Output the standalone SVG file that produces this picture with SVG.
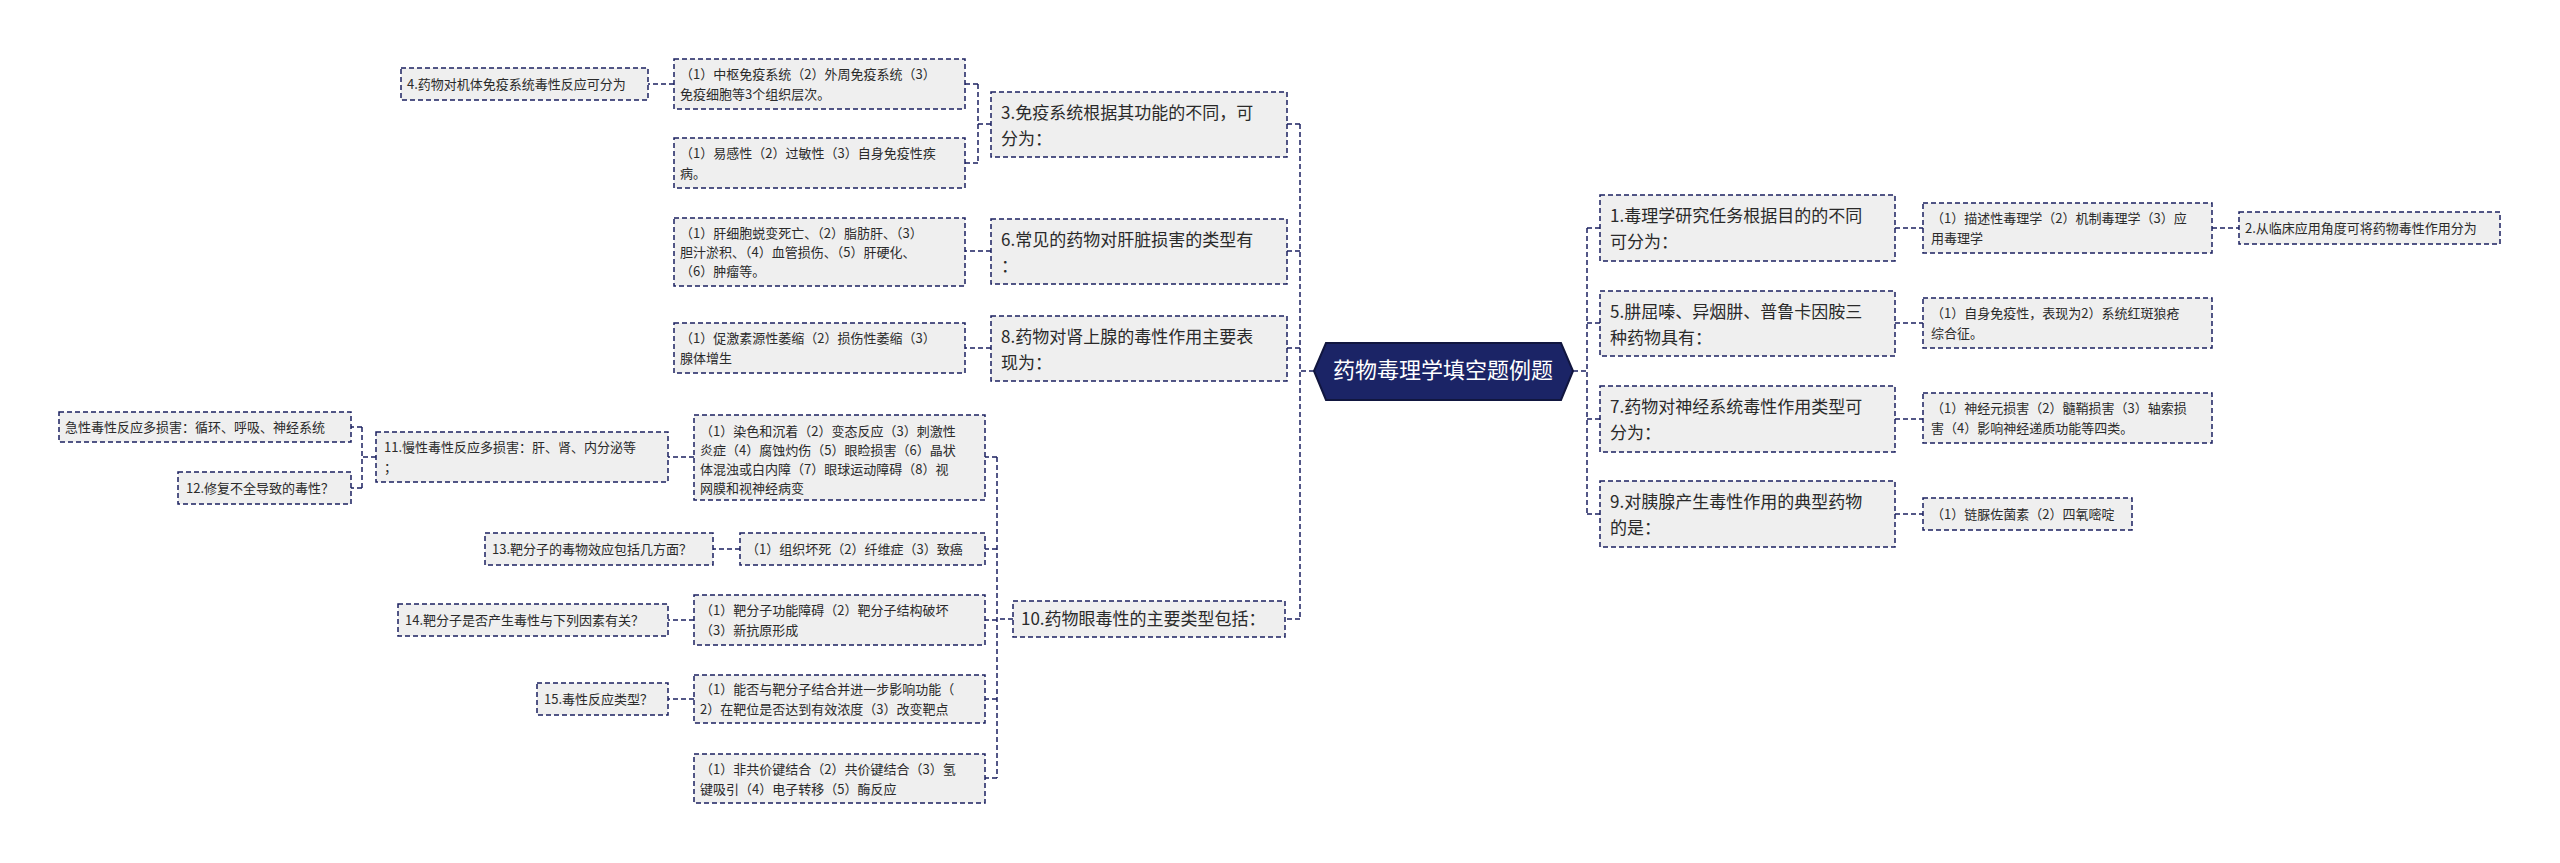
<svg xmlns="http://www.w3.org/2000/svg" width="2560" height="863" viewBox="0 0 2560 863">
<style>
.b{fill:#efefef;stroke:#1b2060;stroke-width:1.5;stroke-dasharray:5,3}
.t1{font-family:"Noto Sans CJK SC","Liberation Sans",sans-serif;font-size:17px;fill:#2a2a2a}
.t2{font-family:"Noto Sans CJK SC","Liberation Sans",sans-serif;font-size:13px;fill:#2a2a2a}
.c{fill:none;stroke:#1b2060;stroke-width:1.5;stroke-dasharray:5,3}
</style>
<rect width="2560" height="863" fill="#fff"/>
<g id="connectors">
<path class="c" d="M1573,371H1587M1587,228V514M1587,228H1600M1587,323H1600M1587,419H1600M1587,514H1600"/>
<path class="c" d="M1895,228H1923M2212,228H2239M1895,323H1923M1895,419H1923M1895,514H1923"/>
<path class="c" d="M1314,371H1300M1300,124V619M1300,124H1287M1300,251H1287M1300,348H1287M1300,619H1285"/>
<path class="c" d="M991,124H978M978,84V163M978,84H965M978,163H965M674,84H648M991,251H965M991,348H965"/>
<path class="c" d="M1013,619H997M997,457V778M997,457H985M997,549H985M997,620H985M997,699H985M997,778H985"/>
<path class="c" d="M694,457H668M376,457H362M362,427V488M362,427H351M362,488H351M740,549H713M694,620H668M694,699H668"/>
</g>
<g id="root">
<polygon points="1326,343 1561,343 1573,371 1561,400 1326,400 1314,371" fill="#1b2466" stroke="#11163f" stroke-width="2"/>
<text x="1443" y="378" text-anchor="middle" font-family="Noto Sans CJK SC,sans-serif" font-size="22" fill="#fff">药物毒理学填空题例题</text>
</g>
<g id="n1"><rect class="b" x="1600" y="195" width="295" height="66"/><text class="t1" x="1610" y="222">1.毒理学研究任务根据目的的不同</text><text class="t1" x="1610" y="248">可分为：</text></g>
<g id="n1a"><rect class="b" x="1923" y="203" width="289" height="50"/><text class="t2" x="1931" y="223">（1）描述性毒理学（2）机制毒理学（3）应</text><text class="t2" x="1931" y="243">用毒理学</text></g>
<g id="n2"><rect class="b" x="2239" y="212" width="261" height="32"/><text class="t2" x="2245" y="233">2.从临床应用角度可将药物毒性作用分为</text></g>
<g id="n5"><rect class="b" x="1600" y="291" width="295" height="65"/><text class="t1" x="1610" y="318">5.肼屈嗪、异烟肼、普鲁卡因胺三</text><text class="t1" x="1610" y="344">种药物具有：</text></g>
<g id="n5a"><rect class="b" x="1923" y="298" width="289" height="50"/><text class="t2" x="1931" y="318">（1）自身免疫性，表现为2）系统红斑狼疮</text><text class="t2" x="1931" y="338">综合征。</text></g>
<g id="n7"><rect class="b" x="1600" y="386" width="295" height="66"/><text class="t1" x="1610" y="413">7.药物对神经系统毒性作用类型可</text><text class="t1" x="1610" y="439">分为：</text></g>
<g id="n7a"><rect class="b" x="1923" y="393" width="289" height="50"/><text class="t2" x="1931" y="413">（1）神经元损害（2）髓鞘损害（3）轴索损</text><text class="t2" x="1931" y="433">害（4）影响神经递质功能等四类。</text></g>
<g id="n9"><rect class="b" x="1600" y="481" width="295" height="66"/><text class="t1" x="1610" y="508">9.对胰腺产生毒性作用的典型药物</text><text class="t1" x="1610" y="534">的是：</text></g>
<g id="n9a"><rect class="b" x="1923" y="498" width="209" height="32"/><text class="t2" x="1931" y="519">（1）链脲佐菌素（2）四氧嘧啶</text></g>
<g id="n3"><rect class="b" x="991" y="92" width="296" height="65"/><text class="t1" x="1001" y="119">3.免疫系统根据其功能的不同，可</text><text class="t1" x="1001" y="145">分为：</text></g>
<g id="n3a"><rect class="b" x="674" y="59" width="291" height="50"/><text class="t2" x="680" y="79">（1）中枢免疫系统（2）外周免疫系统（3）</text><text class="t2" x="680" y="99">免疫细胞等3个组织层次。</text></g>
<g id="n3b"><rect class="b" x="674" y="138" width="291" height="50"/><text class="t2" x="680" y="158">（1）易感性（2）过敏性（3）自身免疫性疾</text><text class="t2" x="680" y="178">病。</text></g>
<g id="n4"><rect class="b" x="401" y="68" width="247" height="32"/><text class="t2" x="407" y="89">4.药物对机体免疫系统毒性反应可分为</text></g>
<g id="n6"><rect class="b" x="991" y="219" width="296" height="65"/><text class="t1" x="1001" y="246">6.常见的药物对肝脏损害的类型有</text><text class="t1" x="1001" y="272">：</text></g>
<g id="n6a"><rect class="b" x="674" y="218" width="291" height="68"/><text class="t2" x="680" y="238">（1）肝细胞蜕变死亡、（2）脂肪肝、（3）</text><text class="t2" x="680" y="257">胆汁淤积、（4）血管损伤、（5）肝硬化、</text><text class="t2" x="680" y="276">（6）肿瘤等。</text></g>
<g id="n8"><rect class="b" x="991" y="316" width="296" height="65"/><text class="t1" x="1001" y="343">8.药物对肾上腺的毒性作用主要表</text><text class="t1" x="1001" y="369">现为：</text></g>
<g id="n8a"><rect class="b" x="674" y="323" width="291" height="50"/><text class="t2" x="680" y="343">（1）促激素源性萎缩（2）损伤性萎缩（3）</text><text class="t2" x="680" y="363">腺体增生</text></g>
<g id="n10"><rect class="b" x="1013" y="601" width="272" height="36"/><text class="t1" x="1021" y="625">10.药物眼毒性的主要类型包括：</text></g>
<g id="n10a"><rect class="b" x="694" y="415" width="291" height="85"/><text class="t2" x="700" y="436">（1）染色和沉着（2）变态反应（3）刺激性</text><text class="t2" x="700" y="455">炎症（4）腐蚀灼伤（5）眼睑损害（6）晶状</text><text class="t2" x="700" y="474">体混浊或白内障（7）眼球运动障碍（8）视</text><text class="t2" x="700" y="493">网膜和视神经病变</text></g>
<g id="n11"><rect class="b" x="376" y="432" width="292" height="50"/><text class="t2" x="384" y="452">11.慢性毒性反应多损害：肝、肾、内分泌等</text><text class="t2" x="384" y="472">；</text></g>
<g id="nacute"><rect class="b" x="59" y="412" width="292" height="30"/><text class="t2" x="65" y="432">急性毒性反应多损害：循环、呼吸、神经系统</text></g>
<g id="n12"><rect class="b" x="178" y="472" width="173" height="32"/><text class="t2" x="186" y="493">12.修复不全导致的毒性？</text></g>
<g id="n10b"><rect class="b" x="740" y="533" width="245" height="32"/><text class="t2" x="746" y="554">（1）组织坏死（2）纤维症（3）致癌</text></g>
<g id="n13"><rect class="b" x="485" y="533" width="228" height="32"/><text class="t2" x="492" y="554">13.靶分子的毒物效应包括几方面？</text></g>
<g id="n10c"><rect class="b" x="694" y="595" width="291" height="50"/><text class="t2" x="700" y="615">（1）靶分子功能障碍（2）靶分子结构破坏</text><text class="t2" x="700" y="635">（3）新抗原形成</text></g>
<g id="n14"><rect class="b" x="398" y="604" width="270" height="32"/><text class="t2" x="405" y="625">14.靶分子是否产生毒性与下列因素有关？</text></g>
<g id="n10d"><rect class="b" x="694" y="675" width="291" height="48"/><text class="t2" x="700" y="694">（1）能否与靶分子结合并进一步影响功能（</text><text class="t2" x="700" y="714">2）在靶位是否达到有效浓度（3）改变靶点</text></g>
<g id="n15"><rect class="b" x="537" y="683" width="131" height="32"/><text class="t2" x="544" y="704">15.毒性反应类型？</text></g>
<g id="n10e"><rect class="b" x="694" y="754" width="291" height="49"/><text class="t2" x="700" y="774">（1）非共价键结合（2）共价键结合（3）氢</text><text class="t2" x="700" y="794">键吸引（4）电子转移（5）酶反应</text></g>
</svg>
